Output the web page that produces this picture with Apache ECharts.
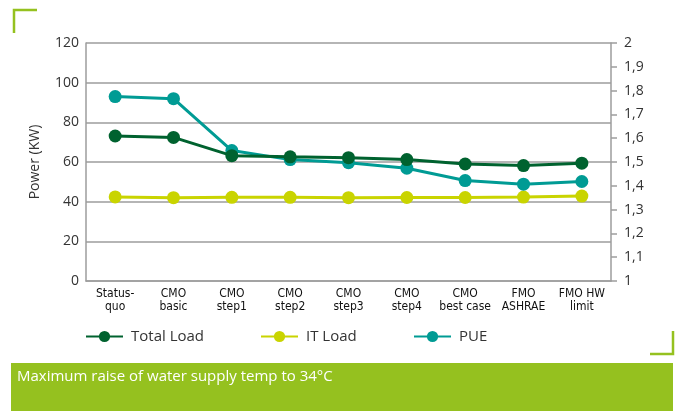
<!DOCTYPE html>
<html>
<head>
<meta charset="utf-8">
<script src="https://cdn.jsdelivr.net/npm/echarts@6/dist/echarts.min.js"></script>
<style>
html, body { margin: 0; padding: 0; background: #fff; }
#chart { width: 677px; height: 411px; }
</style>
</head>
<body>
<div id="chart"></div>
<script>
var categories = ['Status-\nquo', 'CMO\nbasic', 'CMO\nstep1', 'CMO\nstep2', 'CMO\nstep3', 'CMO\nstep4', 'CMO\nbest case', 'FMO\nASHRAE', 'FMO HW\nlimit'];
var totalLoad = [73.1, 72.4, 63.2, 62.6, 62.2, 61.2, 59.0, 58.2, 59.4];
var itLoad = [42.4, 42.0, 42.2, 42.2, 42.0, 42.1, 42.1, 42.3, 42.8];
var pue = [1.775, 1.766, 1.548, 1.51, 1.497, 1.474, 1.422, 1.407, 1.418];
var title = 'Maximum raise of water supply temp to 34°C';

var cDark = '#00622f', cYellow = '#c9d400', cTeal = '#009b94', cBand = '#95c11f';
var cGrid = '#9d9d9d';
var font = '"Open Sans", "Noto Sans", sans-serif';

var myChart = echarts.init(document.getElementById('chart'));

function legendAt(left, name) {
	return {
		left: left, top: 324,
		itemWidth: 37, itemHeight: 14, itemGap: 0,
		textStyle: { fontFamily: font, fontSize: 15, color: '#333', padding: [0, 0, 0, 3] },
		data: [name],
		selectedMode: false
	};
}

function lineSeries(name, data, color, axis, z) {
	return {
		name: name, type: 'line', yAxisIndex: axis, data: data, z: z,
		symbol: 'circle', symbolSize: 13,
		lineStyle: { color: color, width: 3 },
		itemStyle: { color: color },
		animation: false
	};
}

myChart.setOption({
	grid: { left: 86, right: 66, top: 43, bottom: 130 },
	legend: [legendAt(80, 'Total Load'), legendAt(255, 'IT Load'), legendAt(408, 'PUE')],
	xAxis: {
		type: 'category',
		data: categories,
		axisLine: { lineStyle: { color: cGrid, width: 1.5 } },
		axisTick: { show: false },
		axisLabel: {
			interval: 0, margin: 6,
			fontFamily: '"Liberation Sans Narrow", "DejaVu Sans Condensed", sans-serif',
			fontSize: 12, lineHeight: 13, color: '#111'
		}
	},
	yAxis: [{
		type: 'value', min: 0, max: 120, interval: 20,
		name: 'Power (KW)', nameLocation: 'middle', nameGap: 44,
		nameTextStyle: { fontFamily: font, fontSize: 14, color: '#333' },
		axisLine: { show: true, lineStyle: { color: cGrid, width: 1.5 } },
		axisTick: { show: false },
		axisLabel: { fontFamily: font, fontSize: 14, color: '#333', margin: 7 },
		splitLine: { lineStyle: { color: cGrid, width: 1.5 } }
	}, {
		type: 'value', min: 1, max: 2, interval: 0.1, position: 'right',
		axisLine: { show: true, lineStyle: { color: cGrid, width: 1.5 } },
		axisTick: { show: true, length: 6, lineStyle: { color: cGrid, width: 1.5 } },
		axisLabel: {
			fontFamily: font, fontSize: 14, color: '#333', margin: 13,
			formatter: function (v) { return String(Math.round(v * 10) / 10).replace('.', ','); }
		},
		splitLine: { show: false }
	}],
	series: [
		lineSeries('IT Load', itLoad, cYellow, 0, 2),
		lineSeries('PUE', pue, cTeal, 1, 3),
		lineSeries('Total Load', totalLoad, cDark, 0, 4)
	],
	graphic: [
		{ type: 'polyline', shape: { points: [[14, 33], [14, 10], [37, 10]] }, style: { stroke: cBand, lineWidth: 2.5, fill: null } },
		{ type: 'polyline', shape: { points: [[650, 354], [673, 354], [673, 331]] }, style: { stroke: cBand, lineWidth: 2.5, fill: null } },
		{ type: 'rect', shape: { x: 11, y: 363, width: 662, height: 48 }, style: { fill: cBand } },
		{ type: 'text', left: 17, top: 369, style: { text: title, fill: '#fff', font: '15px ' + font } }
	]
});
window.addEventListener('resize', function () {
	myChart.resize();
});
</script>
</body>
</html>
